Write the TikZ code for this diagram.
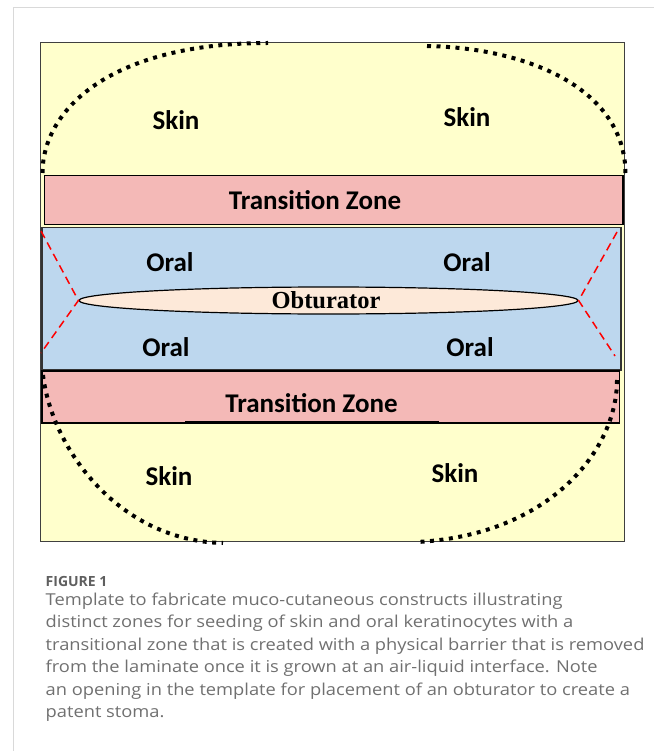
\documentclass[tikz,border=0pt]{standalone}
\usepackage{fontspec}
\usepackage{graphicx}
\usetikzlibrary{shapes.geometric}
\setmainfont{Liberation Serif}
\newfontfamily\calib{Carlito}
\newfontfamily\capfont{Open Sans}
\newcommand\capwide[1]{\scalebox{1.115}[1]{#1}}
\definecolor{skinY}{RGB}{255,255,204}
\definecolor{transP}{RGB}{244,185,183}
\definecolor{oralB}{RGB}{189,215,238}
\definecolor{obtF}{RGB}{253,233,217}
\definecolor{frameG}{RGB}{217,217,217}
\definecolor{capG}{RGB}{112,112,112}
\definecolor{figG}{RGB}{95,95,95}
\tikzset{
  zonelabel/.style={font=\calib\bfseries\fontsize{27}{30}\selectfont, inner sep=0pt, anchor=center},
  dotline/.style={line width=4pt, dash pattern=on 4pt off 5.5pt},
  reddash/.style={red, line width=1.5pt, dash pattern=on 8pt off 5pt},
  capline/.style={font=\capfont\fontsize{16.4}{19}\selectfont, text=capG, anchor=base west, inner sep=0pt},
}
\begin{document}
\begin{tikzpicture}[x=1pt,y=-1pt]
\useasboundingbox (0,0) rectangle (654,751);
% light frame
\draw[frameG, line width=1.3pt] (13.3,751) -- (13.3,7.3) -- (654,7.3);
% outer template
\draw[fill=skinY, draw=black!75, line width=1pt] (40.5,42.3) rectangle (624,541.5);
% top transition band
\node[draw=black, line width=1.5pt, fill=transP, minimum width=578.4pt, minimum height=48.6pt, inner sep=0pt] (tz1) at (333.8,200) {};
% oral region
\node[draw=black!80, line width=1.3pt, fill=oralB, minimum width=579pt, minimum height=142.5pt, inner sep=0pt] (oral) at (331.5,298.7) {};
% bottom transition band
\node[draw=black, line width=1.5pt, fill=transP, minimum width=577.5pt, minimum height=52pt, inner sep=0pt] (tz2) at (330.8,397) {};
\draw[black, line width=2.6pt] (185,422.6) -- (439,422.6);
% obturator
\node[draw=black, line width=1.2pt, fill=obtF, ellipse, minimum width=499pt, minimum height=27pt, inner sep=0pt] (obt) at (328.5,300.5) {};
\node[font=\bfseries\fontsize{24.5}{26}\selectfont, inner sep=0pt] (obtl) at (326,300.5) {Obturator};
% red dashed lines
\coordinate (rl1) at (41,231);
\coordinate (rl2) at (41,353);
\coordinate (rr1) at (617,232);
\coordinate (rr2) at (615,356);
\draw[reddash] (rl1) -- (obt.west) -- (rl2);
\draw[reddash] (rr1) -- (obt.east) -- (rr2);
% dotted arcs
\draw[dotline] (42.5,173) .. controls (42.5,110) and (110,43) .. (268,43);
\draw[dotline] (427,46) .. controls (530,48) and (625.5,90) .. (625.5,174);
\draw[dotline] (43,375) .. controls (52,450) and (120,541) .. (223,543);
\draw[dotline] (617,380) .. controls (617,450) and (550,535) .. (417,542);
% labels
\node[zonelabel] (s1) at (176,120.5) {Skin};
\node[zonelabel] (s2) at (467,117.5) {Skin};
\node[zonelabel] (t1) at (315,200) {Transition Zone};
\node[zonelabel] (o1) at (170,262.5) {Oral};
\node[zonelabel] (o2) at (467,262.5) {Oral};
\node[zonelabel] (o3) at (166,347) {Oral};
\node[zonelabel] (o4) at (470,347) {Oral};
\node[zonelabel] (t2) at (311.5,403.5) {Transition Zone};
\node[zonelabel] (s3) at (169,476.5) {Skin};
\node[zonelabel] (s4) at (455,473.5) {Skin};
% caption
\node[font=\capfont\bfseries\fontsize{14}{16}\selectfont, text=figG, anchor=base west, inner sep=0pt] (fig) at (45.5,586.2) {FIGURE 1};
\node[capline] (c1) at (45.5,605.5) {\capwide{Template to fabricate muco-cutaneous constructs illustrating}};
\node[capline] (c2) at (45.5,627.9) {\capwide{distinct zones for seeding of skin and oral keratinocytes with a}};
\node[capline] (c3) at (45.5,650.3) {\capwide{transitional zone that is created with a physical barrier that is removed}};
\node[capline] (c4) at (45.5,672.7) {\capwide{from the laminate once it is grown at an air-liquid interface. Note}};
\node[capline] (c5) at (45.5,695.1) {\capwide{an opening in the template for placement of an obturator to create a}};
\node[capline] (c6) at (45.5,717.5) {\capwide{patent stoma.}};
\end{tikzpicture}
\end{document}
